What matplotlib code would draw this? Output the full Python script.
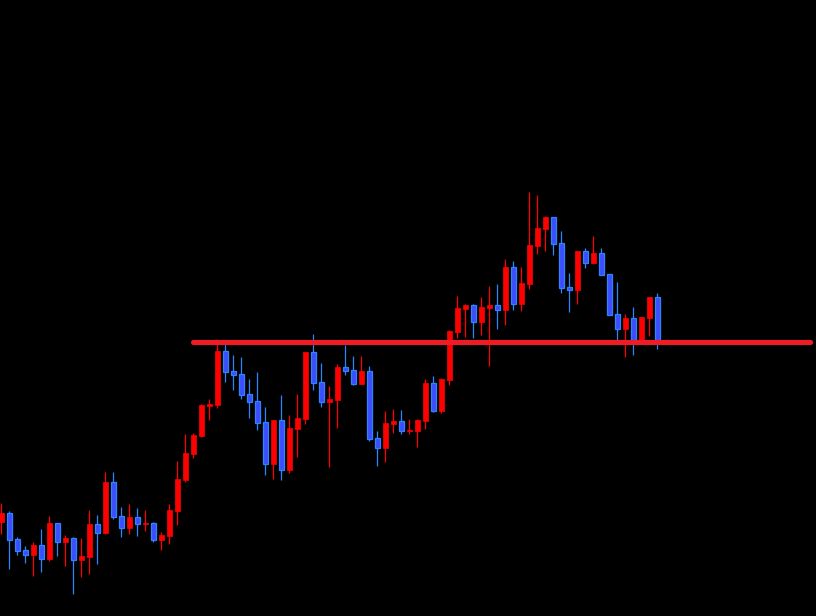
import numpy as np
import matplotlib
matplotlib.use('Agg')
import matplotlib.pyplot as plt

# price in points (candles)
opens = [94, 103, 77, 66, 61, 71, 57, 93, 74, 78, 56, 59, 92, 83, 134, 100, 88, 99, 92, 93,
         76, 80, 105, 136, 162, 180, 210, 211, 265, 245, 242, 222, 215, 194, 152, 196, 146, 187,
         197, 264, 234, 214, 216, 249, 246, 232, 245, 178, 168, 192, 195, 185, 185, 195, 233,
         205, 236, 284, 307, 311, 294, 308, 311, 306, 349, 312, 332, 370, 387, 399, 373, 329,
         326, 365, 353, 363, 342, 302, 287, 298, 276, 298, 319]
highs = [113, 105, 79, 70, 74, 87, 100, 93, 81, 79, 78, 106, 101, 144, 144, 109, 112, 108, 106, 94,
         84, 112, 155, 182, 183, 212, 217, 277, 272, 261, 259, 237, 244, 209, 196, 221, 201, 222,
         264, 282, 253, 230, 252, 271, 260, 260, 250, 185, 205, 207, 206, 197, 197, 237, 240,
         238, 286, 320, 312, 312, 319, 330, 332, 357, 355, 349, 424, 421, 400, 399, 385, 343,
         365, 368, 380, 368, 342, 334, 302, 309, 299, 319, 323]
lows = [82, 47, 61, 53, 40, 44, 55, 60, 50, 22, 39, 42, 52, 82, 97, 79, 82, 80, 85, 74,
        66, 72, 91, 134, 158, 179, 196, 208, 234, 226, 217, 198, 186, 141, 137, 136, 143, 159,
        192, 226, 209, 149, 188, 241, 231, 232, 175, 150, 154, 183, 182, 182, 169, 187, 204,
        203, 231, 278, 279, 278, 281, 250, 287, 291, 306, 305, 327, 362, 365, 361, 323, 304,
        312, 348, 352, 341, 301, 274, 259, 261, 276, 280, 267]
closes = [103, 76, 65, 61, 71, 57, 93, 74, 78, 56, 60, 92, 83, 134, 99, 88, 99, 92, 93, 76,
          81, 106, 137, 163, 181, 211, 212, 265, 244, 241, 221, 214, 193, 152, 196, 146, 188, 198,
          264, 233, 214, 217, 249, 245, 232, 245, 177, 168, 193, 195, 185, 186, 196, 233, 205,
          237, 285, 308, 311, 294, 309, 311, 306, 349, 312, 333, 371, 388, 399, 372, 328, 326,
          365, 353, 363, 341, 301, 287, 298, 276, 299, 319, 276]

level = 273.8
level_start = 23.9
level_end = 101.1

up_col = '#ff0000'
dn_fill = '#3c4cff'
dn_edge = '#2a86ff'
line_col = '#ee1c25'

fig = plt.figure(figsize=(8.16, 6.16), dpi=100, facecolor='black')
ax = fig.add_axes([0, 0, 1, 1])
ax.set_facecolor('black')

x = np.arange(len(opens))
o = np.array(opens, dtype=float)
h = np.array(highs, dtype=float)
l = np.array(lows, dtype=float)
c = np.array(closes, dtype=float)
up = c >= o

# wicks
ax.vlines(x[up], l[up], h[up], color=up_col, lw=0.9, zorder=2)
ax.vlines(x[~up], l[~up], h[~up], color=dn_edge, lw=0.9, zorder=2)

# bodies
w = 0.62
ax.bar(x[up], np.maximum(c[up] - o[up], 1), bottom=o[up], width=w,
       color=up_col, edgecolor=up_col, lw=0.5, zorder=3)
ax.bar(x[~up], np.maximum(o[~up] - c[~up], 1), bottom=c[~up], width=w,
       color=dn_fill, edgecolor=dn_edge, lw=0.9, zorder=3)

# horizontal level
ax.plot([level_start, level_end], [level, level], color=line_col, lw=3.7,
        solid_capstyle='round', zorder=4)

ax.set_xlim(-1.3 / 8, (816 - 1.3) / 8)
ax.set_ylim(0, 616)
ax.axis('off')

fig.savefig('out.png', dpi=100, facecolor='black')
